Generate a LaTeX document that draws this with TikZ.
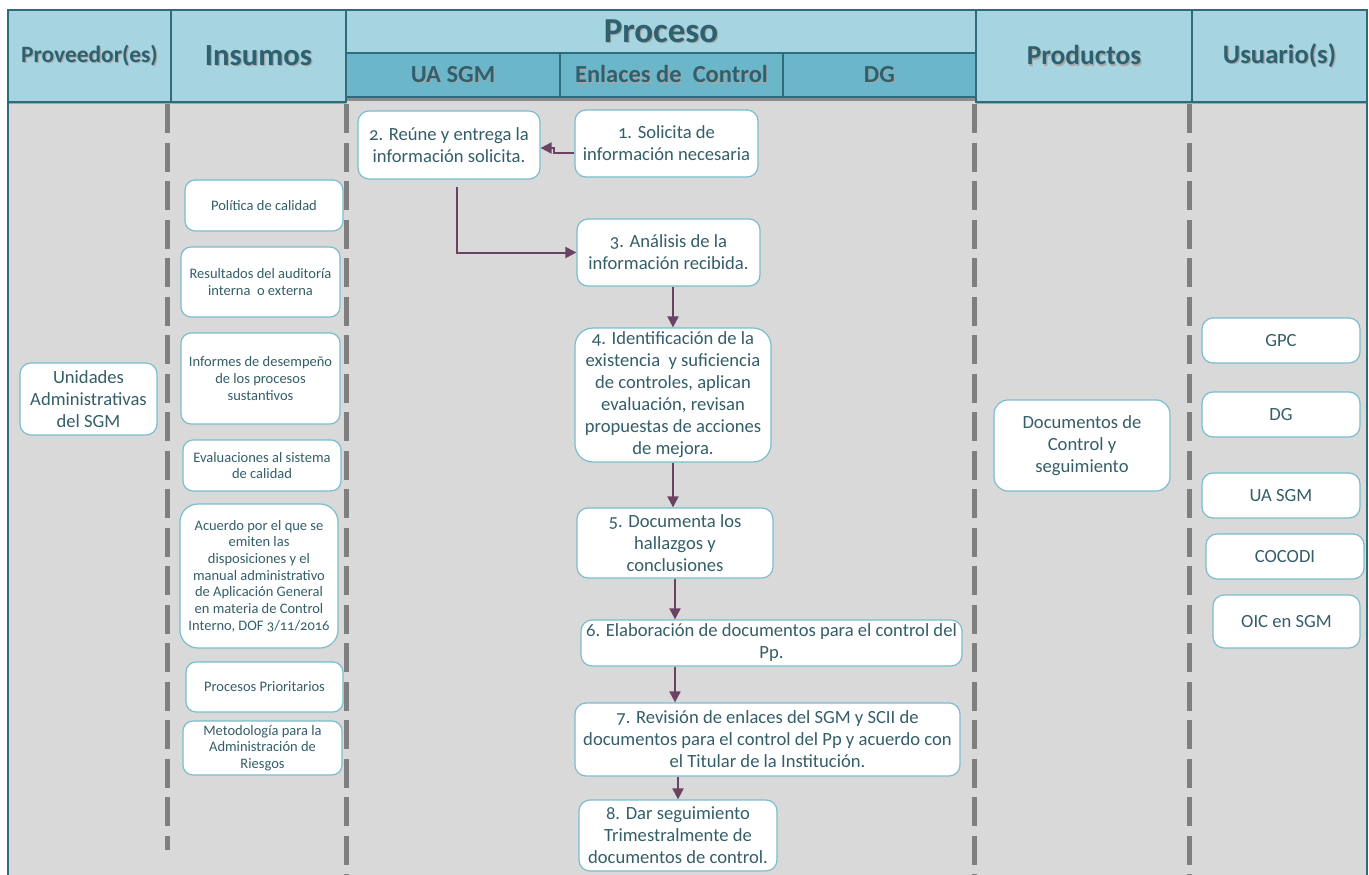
\documentclass[tikz,border=0pt]{standalone}
\usepackage{fontspec}
\setmainfont{Carlito}[Numbers=OldStyle]
\usepackage{xcolor}
\usepackage{tikz}
\usetikzlibrary{arrows.meta,positioning}
\definecolor{hdrfill}{HTML}{A6D4E0}
\definecolor{subfill}{HTML}{6CB6CA}
\definecolor{hdrline}{HTML}{2F6C7B}
\definecolor{hdrtext}{HTML}{2D6170}
\definecolor{boxline}{HTML}{79BDCF}
\definecolor{boxtext}{HTML}{345E69}
\definecolor{lanegray}{HTML}{D9D9D9}
\definecolor{dashgray}{HTML}{7F7F7F}
\definecolor{flowc}{HTML}{6B4362}
\newcommand{\shtxt}[1]{\makebox[0pt][l]{\kern1.2pt\raisebox{-1.2pt}{\textcolor{black!35}{#1}}}#1}

\begin{document}
\begin{tikzpicture}[
    x=1pt, y=-1pt,
    hdr/.style={rectangle, draw=hdrline, fill=hdrfill, line width=1.5pt, outer sep=0pt, minimum height=92pt, text=hdrtext},
    sub/.style={rectangle, draw=hdrline, fill=subfill, line width=1.5pt, outer sep=0pt, minimum height=44pt, text=hdrtext, font=\bfseries\fontsize{24.5}{24.5}\selectfont},
    actbox/.style={rectangle, draw=boxline, fill=white, line width=1.2pt, rounded corners=11pt, align=center, text=boxtext, inner sep=2pt, font=\fontsize{18.6}{22}\selectfont},
    inbox/.style={actbox, rounded corners=10pt, font=\fontsize{14.5}{16.7}\selectfont},
    lane/.style={draw=dashgray, line width=5pt, dash pattern=on 29pt off 9.5pt},
    flow/.style={-{Triangle[length=11pt,width=11pt]}, draw=flowc, line width=2pt},
]
\useasboundingbox (0,0) rectangle (1369,875);

% Body
\fill[lanegray] (8,96) rectangle (1367,875);
\fill[black!45] (346,97) rectangle (976,101);
\fill[black!35] (8,102) rectangle (346,104) (976,102) rectangle (1367,104);
\draw[hdrline, line width=1.5pt] (8,102) -- (8,875) (1367,102) -- (1367,875);

% Lanes
\draw[lane] (167,104) -- (167,850);
\draw[lane] (346,104) -- (346,875);
\draw[lane] (974,104) -- (974,875);
\draw[lane] (1189,104) -- (1189,875);

% Header
\node[hdr, minimum width=163pt, font=\bfseries\fontsize{23.4}{23.4}\selectfont] (prov) at (89.5,56) {\shtxt{Proveedor(es)}};
\node[hdr, minimum width=175pt, right=0pt of prov, font=\bfseries\fontsize{30.7}{30.7}\selectfont] (insu) {\shtxt{Insumos}};
\node[hdr, minimum width=630pt, minimum height=87pt, anchor=north west] (proc) at (insu.north east) {};
\node[text=hdrtext, font=\bfseries\fontsize{35}{35}\selectfont] (proct) at (661,32) {\shtxt{Proceso}};
\node[sub, minimum width=214pt, anchor=south west] (uasgm) at (proc.south west) {\shtxt{UA SGM}};
\node[sub, minimum width=223pt, right=0pt of uasgm] (enl) {\shtxt{Enlaces de\ \ Control}};
\node[sub, minimum width=193pt, right=0pt of enl] (dgh) {\shtxt{DG}\hspace{14pt}};
\node[hdr, minimum width=216pt, anchor=north west, font=\bfseries\fontsize{27.4}{27.4}\selectfont] (prod) at (proc.north east) {\shtxt{Productos}};
\node[hdr, minimum width=175pt, right=0pt of prod, font=\bfseries\fontsize{26.7}{26.7}\selectfont] (usr) {\shtxt{Usuario(s)}};

% Proveedor
\node[actbox, minimum width=137pt, minimum height=72pt] (uadm) at (88.5,399) {Unidades\\Administrativas\\del SGM};

% Insumos
\node[inbox, minimum width=158pt, minimum height=51pt] (pol) at (264,205.5) {Política de calidad};
\node[inbox, minimum width=159pt, minimum height=70pt] (res) at (260.5,282) {Resultados del auditoría\\interna\ \ o externa};
\node[inbox, minimum width=159pt, minimum height=91pt] (inf) at (260.5,378.5) {Informes de desempeño\\de los procesos\\sustantivos};
\node[inbox, minimum width=158pt, minimum height=51pt] (eva) at (262,465.5) {Evaluaciones al sistema\\de calidad};
\node[inbox, minimum width=158pt, minimum height=144pt, rounded corners=18pt] (acu) at (259,576) {Acuerdo por el que se\\emiten las\\disposiciones y el\\manual administrativo\\de Aplicación General\\en materia de Control\\Interno, DOF 3/11/2016};
\node[inbox, minimum width=157pt, minimum height=50pt] (pri) at (264.5,687) {Procesos Prioritarios};
\node[inbox, minimum width=159pt, minimum height=54pt] (met) at (262.5,748) {Metodología para la\\Administración de\\Riesgos};

% Proceso
\node[actbox, minimum width=183pt, minimum height=67pt] (n1) at (666.5,143.5) {1. Solicita de\\información necesaria};
\node[actbox, minimum width=182pt, minimum height=68pt] (n2) at (449,145) {2. Reúne y entrega la\\información solicita.};
\node[actbox, minimum width=183pt, minimum height=67pt] (n3) at (668.5,252.5) {3. Análisis de la\\información recibida.};
\node[actbox, minimum width=196pt, minimum height=134pt, rounded corners=18pt] (n4) at (673,395) {4. Identificación de la\\existencia\ \ y suficiencia\\de controles, aplican\\evaluación, revisan\\propuestas de acciones\\de mejora.};
\node[actbox, minimum width=196pt, minimum height=70pt] (n5) at (675,543) {5. Documenta los\\hallazgos y\\conclusiones};
\node[actbox, minimum width=381pt, minimum height=46pt] (n6) at (771.5,643) {6. Elaboración de documentos para el control del\\Pp.};
\node[actbox, minimum width=385pt, minimum height=73pt] (n7) at (767.5,739.5) {7. Revisión de enlaces del SGM y SCII de\\documentos para el control del Pp y acuerdo con\\el Titular de la Institución.};
\node[actbox, minimum width=198pt, minimum height=71pt] (n8) at (678,835.5) {8. Dar seguimiento\\Trimestralmente de\\documentos de control.};

% Productos
\node[actbox, minimum width=176pt, minimum height=91pt, rounded corners=14pt] (docs) at (1082,445.5) {Documentos de\\Control y\\seguimiento};

% Usuarios
\node[actbox, minimum width=158pt, minimum height=45pt] (gpc) at (1281,340.5) {GPC};
\node[actbox, minimum width=158pt, minimum height=45pt] (dgu) at (1281,414.5) {DG};
\node[actbox, minimum width=158pt, minimum height=45pt] (uau) at (1281,495.5) {UA SGM};
\node[actbox, minimum width=158pt, minimum height=45pt] (coc) at (1285,556.5) {COCODI};
\node[actbox, minimum width=147pt, minimum height=53pt] (oic) at (1286.5,621.5) {OIC en SGM};

% Arrows
\draw[flow] ([yshift=-9.5pt]n1.west) -- ++(-20,0) |- ([yshift=-3pt]n2.east);
\draw[flow] ([xshift=8pt,yshift=-7pt]n2.south) |- (n3.west);
\draw[flow] (n4.north |- n3.south) -- (n4.north);
\draw[flow] (n4.south) -- (n4.south |- n5.north);
\draw[flow] (n5.south) -- (n5.south |- n6.north);
\draw[flow] (n5.south |- n6.south) -- (n5.south |- n7.north);
\draw[flow] (n8.north |- n7.south) -- (n8.north);

\end{tikzpicture}
\end{document}
